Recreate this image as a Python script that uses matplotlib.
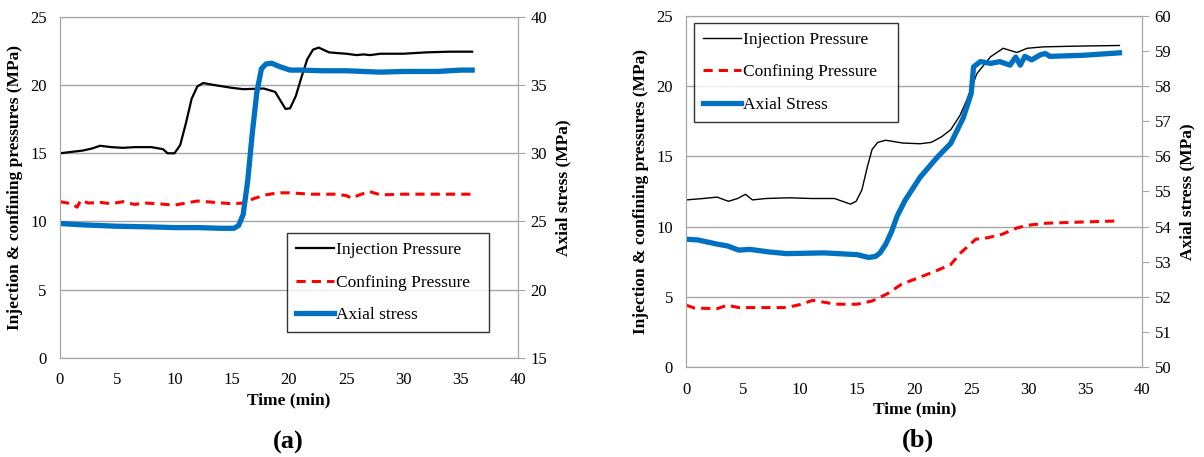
import numpy as np
from matplotlib import pyplot as plt

plt.rcParams['font.family'] = ['Liberation Serif', 'DejaVu Serif']

# ---- panel (a) data ----
ta_inj = [0, 1, 2, 2.8, 3.5, 4.5, 5.5, 6.5, 8, 9, 9.4, 10, 10.5, 11, 11.5, 12, 12.5, 13.5, 15, 16, 17.8, 18.8, 19.3, 19.7, 20.1, 20.6, 21.1, 21.6, 22.1, 22.6, 23.5, 24.2, 25, 25.9, 26.5, 27.1, 28, 30, 32, 34, 36]
ya_inj = [15.0, 15.1, 15.2, 15.35, 15.55, 15.45, 15.4, 15.45, 15.45, 15.3, 15.0, 15.0, 15.6, 17.2, 19.0, 19.9, 20.15, 20.0, 19.8, 19.7, 19.75, 19.5, 18.8, 18.25, 18.3, 19.2, 20.6, 21.9, 22.6, 22.75, 22.4, 22.35, 22.3, 22.2, 22.25, 22.2, 22.3, 22.3, 22.4, 22.45, 22.45]
ta_conf = [0, 1, 1.5, 1.8, 2.5, 3.5, 4.5, 5.5, 6.5, 7.5, 8.5, 10, 11, 12, 13.5, 15, 16, 17, 18, 19, 20, 22, 24, 25, 25.5, 26, 27, 28, 30, 33, 36]
ya_conf = [11.45, 11.3, 11.05, 11.55, 11.35, 11.4, 11.3, 11.45, 11.25, 11.35, 11.3, 11.2, 11.35, 11.5, 11.4, 11.3, 11.35, 11.7, 11.95, 12.1, 12.1, 12.0, 12.0, 11.9, 11.7, 11.9, 12.2, 11.95, 12.0, 12.0, 12.0]
ta_ax = [0, 2, 5, 8, 10, 12, 14, 15.2, 15.6, 16.0, 16.4, 16.8, 17.2, 17.6, 18.0, 18.5, 19.2, 20.1, 21, 23, 25, 28, 30, 33, 35, 36]
ya_ax = [24.85, 24.75, 24.65, 24.6, 24.55, 24.55, 24.5, 24.5, 24.7, 25.5, 28.0, 31.5, 34.5, 36.2, 36.55, 36.6, 36.35, 36.1, 36.1, 36.05, 36.05, 35.95, 36.0, 36.0, 36.1, 36.1]

# ---- panel (b) data ----
tb_inj = [0, 1.5, 2.7, 3.7, 4.5, 5.2, 5.8, 7, 9, 11, 13, 14.4, 14.9, 15.4, 15.9, 16.3, 16.8, 17.5, 19, 20.5, 21.5, 22.4, 23.2, 24.0, 24.6, 25.5, 26.7, 27.8, 29, 29.9, 31.3, 34, 38]
yb_inj = [11.9, 12.0, 12.1, 11.8, 12.0, 12.3, 11.9, 12.0, 12.05, 12.0, 12.0, 11.6, 11.8, 12.6, 14.3, 15.5, 16.0, 16.15, 15.95, 15.9, 16.0, 16.4, 16.9, 17.9, 19.0, 20.9, 22.1, 22.7, 22.4, 22.7, 22.8, 22.85, 22.9]
tb_conf = [0, 0.7, 2.7, 3.6, 4.6, 6, 8.8, 10, 11.1, 13.1, 15, 16.3, 17.6, 18.9, 20.2, 21.9, 23.2, 24.1, 25.4, 26.4, 27.7, 29, 30, 31.6, 34.9, 37.8]
yb_conf = [4.4, 4.2, 4.15, 4.4, 4.23, 4.23, 4.23, 4.45, 4.75, 4.47, 4.47, 4.7, 5.2, 5.9, 6.3, 6.84, 7.3, 8.15, 9.1, 9.2, 9.45, 9.9, 10.1, 10.24, 10.33, 10.4]
tb_ax = [0, 1.0, 2.7, 3.6, 4.6, 5.6, 7.2, 8.8, 12.1, 15, 16, 16.6, 17.0, 17.5, 18.0, 18.5, 19.2, 20.5, 22, 23.2, 24.3, 25.0, 25.2, 25.8, 26.7, 27.5, 28.4, 28.9, 29.3, 29.7, 30.3, 31.1, 31.5, 31.9, 34.8, 38]
yb_ax = [53.64, 53.62, 53.5, 53.45, 53.33, 53.35, 53.28, 53.23, 53.25, 53.2, 53.12, 53.15, 53.25, 53.5, 53.85, 54.3, 54.75, 55.4, 55.97, 56.37, 57.1, 57.8, 58.55, 58.7, 58.65, 58.7, 58.6, 58.83, 58.6, 58.85, 58.75, 58.9, 58.93, 58.85, 58.88, 58.95]

xticks = [0, 5, 10, 15, 20, 25, 30, 35, 40]
gray = '#a6a6a6'

fig = plt.figure(figsize=(12.04, 4.57), dpi=100)
axa = fig.add_axes([0.0498, 0.217, 0.3804, 0.746])
axb = fig.add_axes([0.570, 0.197, 0.3787, 0.768])


def style(ax, ax2, ylim2, yticks2):
    ax.set_xlim(0, 40)
    ax.set_ylim(0, 25)
    ax.set_xticks(xticks)
    ax.set_yticks([0, 5, 10, 15, 20, 25])
    ax.yaxis.grid(True, color=gray, linewidth=1)
    ax.set_axisbelow(True)
    ax2.set_ylim(*ylim2)
    ax2.set_yticks(yticks2)
    for a in (ax, ax2):
        for sp in a.spines.values():
            sp.set_color(gray)
        a.tick_params(labelsize=12, color=gray)
    ax.tick_params(axis='x', length=0, pad=10.5)
    ax.tick_params(axis='y', length=0, pad=9.5)
    ax2.tick_params(axis='y', length=5, direction='out', pad=4)
    ax.set_xlabel('Time (min)', fontsize=12.5, fontweight='bold', labelpad=3)
    ax.set_ylabel('Injection & confining pressures (MPa)', fontsize=12.5, fontweight='bold', labelpad=5)
    ax2.set_ylabel('Axial stress (MPa)', fontsize=12.5, fontweight='bold', labelpad=6)


def legend(ax, handles, anchor, loc):
    leg = ax.legend(handles=handles, loc=loc, bbox_to_anchor=anchor, mode='expand',
                    fontsize=12.5, frameon=True, fancybox=False, edgecolor='black',
                    labelspacing=0.95, handlelength=2.2, handletextpad=0.1,
                    borderpad=0.5, borderaxespad=0)
    leg.get_frame().set_linewidth(1.0)
    leg.set_zorder(10)
    return leg


# panel (a)
axa2 = axa.twinx()
l1, = axa.plot(ta_inj, ya_inj, color='black', lw=1.6, label='Injection Pressure')
l2, = axa.plot(ta_conf, ya_conf, color='#ff0000', lw=2.2, ls=(0, (3, 2)), label='Confining Pressure')
l3, = axa2.plot(ta_ax, ya_ax, color='#0070c0', lw=3.8, label='Axial stress')
style(axa, axa2, (15, 40), [15, 20, 25, 30, 35, 40])
legend(axa, [l1, l2, l3], (0.4956, 0.076, 0.441, 0), 'lower left')

# panel (b)
axb2 = axb.twinx()
m1, = axb.plot(tb_inj, yb_inj, color='black', lw=1.0, label='Injection Pressure')
m2, = axb.plot(tb_conf, yb_conf, color='#ff0000', lw=2.2, ls=(0, (3, 2)), label='Confining Pressure')
m3, = axb2.plot(tb_ax, yb_ax, color='#0070c0', lw=3.8, label='Axial Stress')
style(axb, axb2, (50, 60), list(range(50, 61)))
legend(axb, [m1, m2, m3], (0.0175, 0.98, 0.447, 0), 'upper left')

fig.text(0.239, 0.031, '(a)', ha='center', va='center', fontsize=19, fontweight='bold')
fig.text(0.7625, 0.037, '(b)', ha='center', va='center', fontsize=19, fontweight='bold')

plt.savefig('out.png', dpi=100)
